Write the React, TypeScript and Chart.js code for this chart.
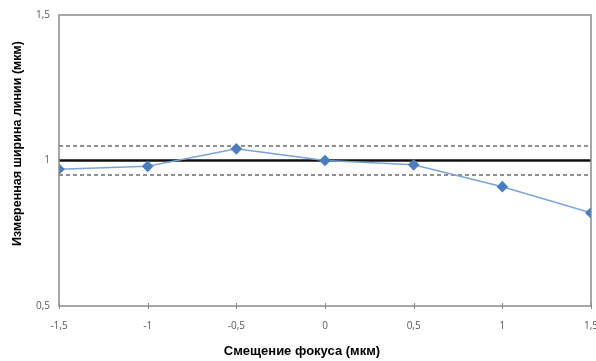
import React, { useEffect, useRef } from "react";
import { Chart, registerables } from "chart.js";

Chart.register(...registerables);

// Focus shift (µm) and measured line width (µm)
const focusShift = [-1.5, -1, -0.5, 0, 0.5, 1, 1.5];
const measuredWidth = [0.97, 0.98, 1.04, 1.0, 0.985, 0.91, 0.82];

// Nominal width and tolerance band
const nominalWidth = 1.0;
const upperLimit = 1.05;
const lowerLimit = 0.95;

const xRange = [-1.5, 1.5];
const yRange = [0.5, 1.5];

const xTitle = "Смещение фокуса (мкм)";
const yTitle = "Измеренная ширина линии (мкм)";

const fmt = (v: number) => String(v).replace(".", ",");

// Plot frame, cross tick marks on the x axis and the two axis titles
const frameAndTitles = {
  id: "frameAndTitles",
  afterDatasetsDraw(chart: any) {
    const { ctx, chartArea, scales } = chart;
    const { left, right, top, bottom } = chartArea;
    ctx.save();
    ctx.strokeStyle = "#8a8a8a";
    ctx.lineWidth = 1.5;
    ctx.strokeRect(left, top, right - left, bottom - top);
    ctx.lineWidth = 1;
    for (const v of focusShift) {
      const px = Math.round(scales.x.getPixelForValue(v)) + 0.5;
      ctx.beginPath();
      ctx.moveTo(px, bottom - 3);
      ctx.lineTo(px, bottom + 3);
      ctx.stroke();
    }

    ctx.fillStyle = "#000";
    ctx.textAlign = "center";
    ctx.textBaseline = "middle";
    ctx.font = "bold 13px 'Liberation Sans'";
    ctx.fillText(xTitle, (left + right) / 2 - 23, bottom + 45);

    ctx.translate(18, (top + bottom) / 2 - 17);
    ctx.rotate(-Math.PI / 2);
    ctx.font = "bold 12.5px 'Liberation Sans'";
    ctx.fillText(yTitle, 0, 0);
    ctx.restore();
  },
};

export default function App() {
  const ref = useRef<HTMLCanvasElement>(null);

  useEffect(() => {
    if (!ref.current) return;
    const band = (y: number) => xRange.map((x) => ({ x, y }));
    const chart = new Chart(ref.current, {
      type: "line",
      data: {
        datasets: [
          {
            label: "measured",
            data: focusShift.map((x, i) => ({ x, y: measuredWidth[i] })),
            borderColor: "#7ba3d8",
            backgroundColor: "#4a7ebb",
            borderWidth: 1.5,
            pointStyle: "rectRot",
            pointRadius: 4.8,
            pointBorderColor: "#4a7ebb",
            pointBackgroundColor: "#4a7ebb",
          },
          {
            label: "nominal",
            data: band(nominalWidth),
            borderColor: "#111111",
            borderWidth: 2.5,
            pointRadius: 0,
          },
          {
            label: "upper",
            data: band(upperLimit),
            borderColor: "#6e6e6e",
            borderWidth: 1.5,
            borderDash: [4, 3],
            pointRadius: 0,
          },
          {
            label: "lower",
            data: band(lowerLimit),
            borderColor: "#6e6e6e",
            borderWidth: 1.5,
            borderDash: [4, 3],
            pointRadius: 0,
          },
        ],
      },
      options: {
        animation: false,
        responsive: true,
        maintainAspectRatio: false,
        layout: { padding: { top: 15, right: 0, bottom: 4, left: 8 } },
        plugins: { legend: { display: false }, tooltip: { enabled: false } },
        scales: {
          x: {
            type: "linear",
            min: xRange[0],
            max: xRange[1],
            border: { display: false },
            grid: { display: false, drawTicks: false },
            ticks: {
              stepSize: 0.5,
              color: "#595959",
              font: { family: "Open Sans", size: 10 },
              padding: 14,
              maxRotation: 0,
              callback: (v: any) => fmt(Number(v)),
            },
            afterFit: (s: any) => {
              s.height = 51;
            },
          },
          y: {
            min: yRange[0],
            max: yRange[1],
            border: { display: false },
            grid: { display: false, drawTicks: false },
            ticks: {
              stepSize: 0.5,
              color: "#595959",
              font: { family: "Open Sans", size: 10 },
              padding: 9,
              callback: (v: any) => fmt(Number(v)),
            },
            afterFit: (s: any) => {
              s.width = 51;
            },
          },
        },
      },
      plugins: [frameAndTitles],
    });
    return () => chart.destroy();
  }, []);

  return (
    <div style={{ position: "absolute", left: 0, top: 0, width: 612, height: 361, background: "#fff" }}>
      <canvas ref={ref} />
    </div>
  );
}
